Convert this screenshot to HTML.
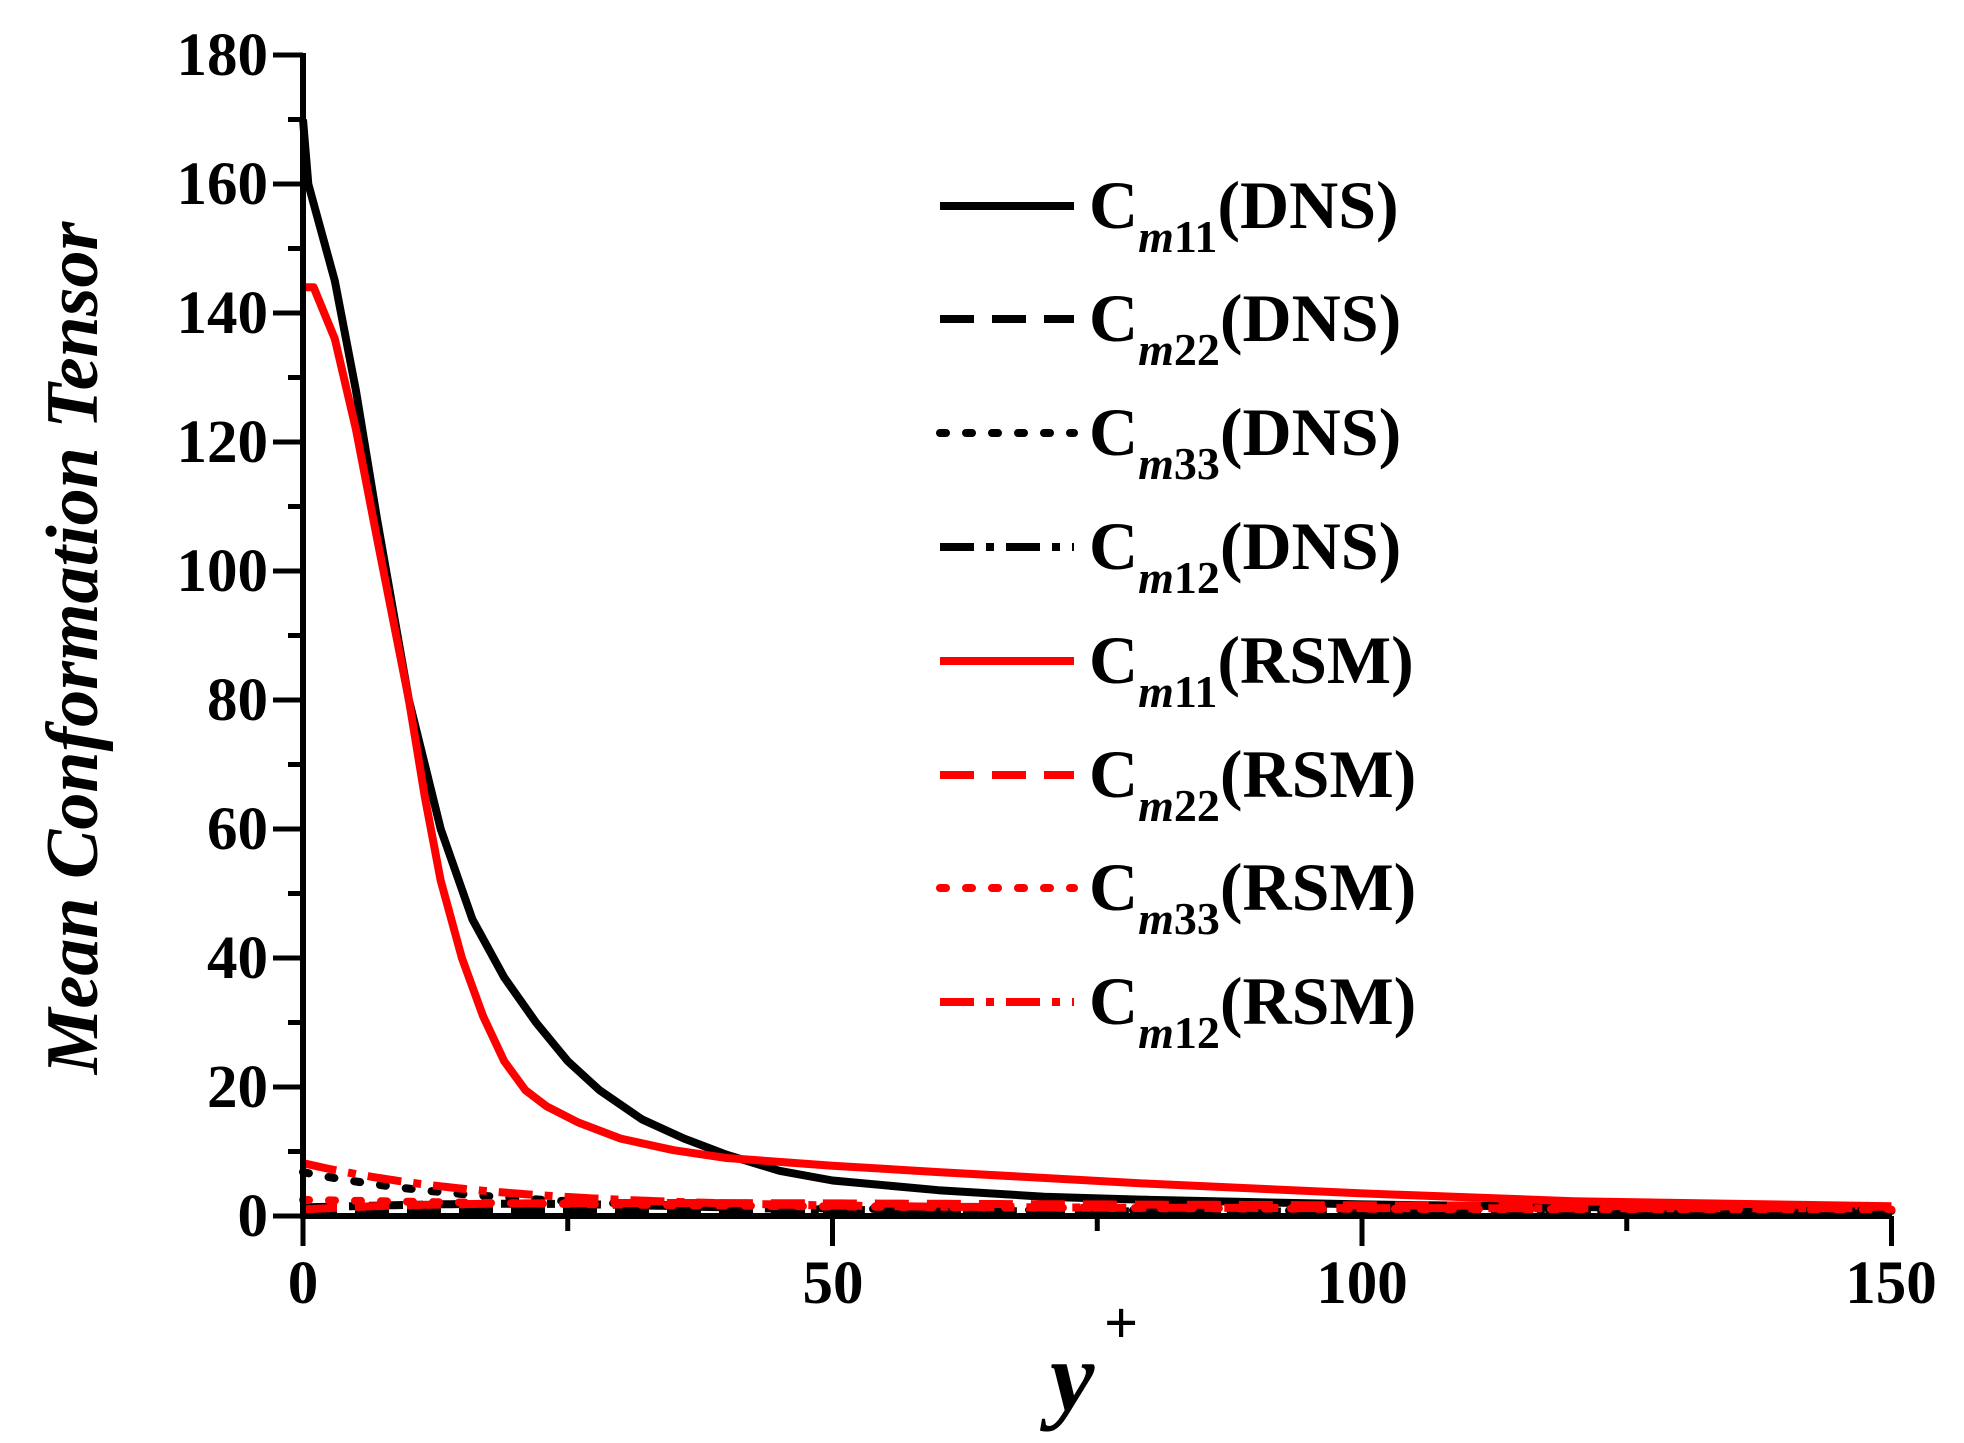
<!DOCTYPE html>
<html><head><meta charset="utf-8"><style>
html,body{margin:0;padding:0;background:#fff;}
svg{display:block;}
text{font-family:"Liberation Serif",serif;font-weight:bold;fill:#000;}
</style></head><body>
<svg id="s" width="1964" height="1443" viewBox="0 0 1964 1443" xmlns="http://www.w3.org/2000/svg">
<g id="curves" fill="none" stroke-width="8" stroke-linejoin="round"></g>
<g stroke="#000" stroke-width="6" fill="none">
<line x1="303" y1="53" x2="303" y2="1219"/>
<line x1="300" y1="1216" x2="1892" y2="1216"/>
</g>
<g id="ticks" stroke="#000" stroke-width="5"></g>
<g font-size="61" text-anchor="end">
<text x="268" y="75">180</text><text x="268" y="204">160</text><text x="268" y="333">140</text>
<text x="268" y="462">120</text><text x="268" y="591">100</text><text x="268" y="720">80</text>
<text x="268" y="849">60</text><text x="268" y="978">40</text><text x="268" y="1107">20</text>
<text x="268" y="1236">0</text>
</g>
<g font-size="61" text-anchor="middle">
<text x="303" y="1303">0</text><text x="833" y="1303">50</text><text x="1362" y="1303">100</text><text x="1891" y="1303">150</text>
</g>
<text transform="translate(97,648) rotate(-90)" font-size="74" font-style="italic" text-anchor="middle">Mean Conformation Tensor</text>
<text x="1050" y="1410" font-size="100" font-style="italic">y</text>
<text x="1104" y="1343" font-size="60">+</text>
<g id="leg" stroke-width="8"></g>
<g font-size="68">
<text x="1089" y="228">C<tspan font-size="46" font-style="italic" dy="24">m</tspan><tspan font-size="46">11</tspan><tspan dy="-24">(DNS)</tspan></text>
<text x="1089" y="341">C<tspan font-size="46" font-style="italic" dy="24">m</tspan><tspan font-size="46">22</tspan><tspan dy="-24">(DNS)</tspan></text>
<text x="1089" y="455">C<tspan font-size="46" font-style="italic" dy="24">m</tspan><tspan font-size="46">33</tspan><tspan dy="-24">(DNS)</tspan></text>
<text x="1089" y="569">C<tspan font-size="46" font-style="italic" dy="24">m</tspan><tspan font-size="46">12</tspan><tspan dy="-24">(DNS)</tspan></text>
<text x="1089" y="683">C<tspan font-size="46" font-style="italic" dy="24">m</tspan><tspan font-size="46">11</tspan><tspan dy="-24">(RSM)</tspan></text>
<text x="1089" y="797">C<tspan font-size="46" font-style="italic" dy="24">m</tspan><tspan font-size="46">22</tspan><tspan dy="-24">(RSM)</tspan></text>
<text x="1089" y="910">C<tspan font-size="46" font-style="italic" dy="24">m</tspan><tspan font-size="46">33</tspan><tspan dy="-24">(RSM)</tspan></text>
<text x="1089" y="1024">C<tspan font-size="46" font-style="italic" dy="24">m</tspan><tspan font-size="46">12</tspan><tspan dy="-24">(RSM)</tspan></text>
</g>
</svg>
<script>
var NS="http://www.w3.org/2000/svg";
function X(v){return 303+v*10.59;}function Y(v){return 1216-v*6.45;}
function el(p,t,a){var e=document.createElementNS(NS,t);for(var k in a)e.setAttribute(k,a[k]);document.getElementById(p).appendChild(e);}
for(var v=0;v<=180;v+=10){var L=(v%20==0)?30:15;el("ticks","line",{x1:303-L,y1:Y(v),x2:303,y2:Y(v)});}
for(var v=0;v<=150;v+=25){var L=(v%50==0)?30:15;el("ticks","line",{x1:X(v),y1:1216,x2:X(v),y2:1216+L});}
var dash={s:"",d:"34 18",o:"6 20",dd:"34 12 8 12"};
function path(pts,col,da){var d=pts.map(function(p,i){return (i?"L":"M")+X(p[0]).toFixed(1)+" "+Y(p[1]).toFixed(1);}).join(" ");
el("curves","path",{d:d,stroke:col,"stroke-dasharray":da,"stroke-linecap":da==dash.o?"round":"butt"});}
function fn(f){var a=[];for(var v=0;v<=150;v+=0.5)a.push([v,f(v)]);return a;}
path([[0,170],[0.5,160],[1,157],[3,145],[5,128],[7,108],[10,80],[13,60],[16,46],[19,37],[22,30],[25,24],[28,19.5],[32,15],[36,12],[40,9.5],[45,7],[50,5.5],[60,4],[70,3],[80,2.5],[100,1.8],[150,0.8]],"#000","");
path([[0,144],[1,144],[3,136],[5,122],[7,105],[10,80],[11.5,65],[13,52],[15,40],[17,31],[19,24],[21,19.5],[23,17],[26,14.5],[30,12],[35,10.2],[40,9],[50,7.8],[60,6.8],[80,5],[100,3.5],[120,2.3],[150,1.5]],"#f00","");
path(fn(function(v){return 0.6+0.5*Math.exp(-v/60);}),"#000",dash.d);
path(fn(function(v){return 0.8+6*Math.exp(-v/18);}),"#000",dash.o);
path(fn(function(v){return 0.7+1.2*Math.exp(-Math.pow((v-20)/25,2));}),"#000",dash.dd);
path(fn(function(v){return 1+1.5*(1-Math.exp(-v/15))*Math.exp(-v/120);}),"#f00",dash.d);
path(fn(function(v){return 0.9+1.6*Math.exp(-v/50);}),"#f00",dash.o);
path(fn(function(v){return 1.2+7*Math.exp(-v/18);}),"#f00",dash.dd);
var rows=[206,319,433,547,661,775,888,1002],st=[["#000",""],["#000",dash.d],["#000",dash.o],["#000",dash.dd],["#f00",""],["#f00",dash.d],["#f00",dash.o],["#f00",dash.dd]];
rows.forEach(function(y,i){el("leg","line",{x1:940,y1:y,x2:1074,y2:y,stroke:st[i][0],"stroke-dasharray":st[i][1],"stroke-linecap":st[i][1]==dash.o?"round":"butt"});});
</script>
</body></html>
